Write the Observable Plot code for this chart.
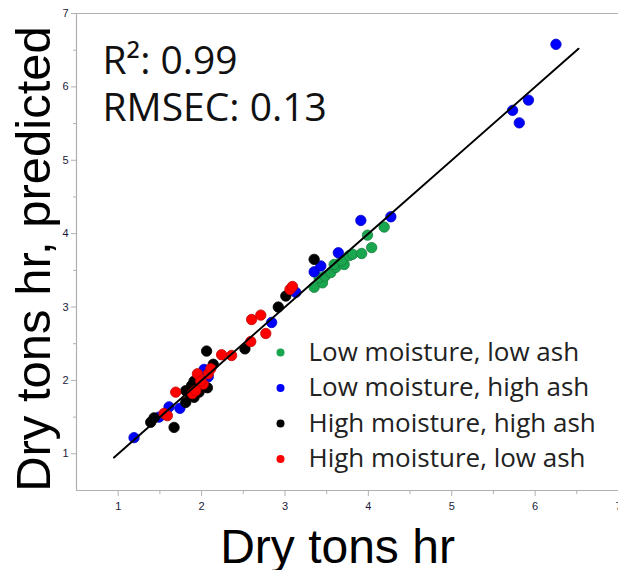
<!DOCTYPE html>
<html>
<head>
<meta charset="utf-8">
<script src="https://cdn.jsdelivr.net/npm/d3@7"></script>
<script src="https://cdn.jsdelivr.net/npm/@observablehq/plot@0.6"></script>
<style>
  html, body { margin: 0; padding: 0; background: #fff; overflow: hidden; }
</style>
</head>
<body>
<div id="chart"></div>
<script>
// ---- data ----
const groups = ["Low moisture, low ash", "Low moisture, high ash", "High moisture, high ash", "High moisture, low ash"];
const groupColors = ["#1aa64f", "#0000ff", "#000000", "#ff0000"];

// [measured, predicted]
const lowMoistLowAsh = [
  [3.35,3.27],[3.45,3.33],[3.41,3.40],[3.48,3.42],[3.55,3.47],[3.61,3.54],[3.59,3.58],
  [3.71,3.58],[3.68,3.63],[3.77,3.70],[3.81,3.72],[3.92,3.73],[4.04,3.81],[3.99,3.98],[4.19,4.09]
];
const lowMoistHighAsh = [
  [1.19,1.22],[1.49,1.50],[1.61,1.64],[1.74,1.62],[2.03,2.15],[2.08,2.05],[2.84,2.79],
  [3.13,3.20],[3.35,3.48],[3.43,3.56],[3.64,3.74],[3.91,4.18],[4.27,4.23],
  [5.73,5.68],[5.81,5.51],[5.92,5.82],[6.25,6.58]
];
const highMoistHighAsh = [
  [1.39,1.43],[1.43,1.49],[1.67,1.36],[1.81,1.70],[1.81,1.86],[1.91,1.99],[1.91,1.77],
  [1.97,1.84],[2.07,1.90],[2.14,2.22],[2.06,2.40],[2.52,2.43],[2.92,3.00],[3.01,3.15],
  [3.35,3.65],[1.86,1.81],[1.88,1.93]
];
const highMoistLowAsh = [
  [1.55,1.55],[1.59,1.52],[1.69,1.84],[1.89,1.82],[1.93,1.86],[2.02,1.95],[1.95,2.09],
  [2.08,2.09],[1.99,1.99],[2.11,2.16],[2.24,2.35],[2.36,2.34],[2.59,2.53],[2.77,2.64],
  [2.60,2.83],[2.71,2.89],[3.06,3.24],[3.09,3.28]
];
const seriesList = [lowMoistLowAsh, lowMoistHighAsh, highMoistHighAsh, highMoistLowAsh];

const fitX = [0.95, 6.52];          // 1:1 fit line extent
const xTicks = [1, 2, 3, 4, 5, 6, 7];
const yTicks = [1, 2, 3, 4, 5, 6, 7];
const minorTicks = [1.5, 2.5, 3.5, 4.5, 5.5, 6.5];
const statLines = ["R²: 0.99", "RMSEC: 0.13"];
const xLabel = "Dry tons hr";
const yLabel = "Dry tons hr, predicted";

// ---- build ----
const points = [];
seriesList.forEach((arr, gi) => arr.forEach(([x, y]) => points.push({x, y, g: groups[gi]})));
const colorOf = Object.fromEntries(groups.map((g, i) => [g, groupColors[i]]));
const strokeOf = Object.fromEntries(groups.map((g, i) => [g, d3.color(groupColors[i]).darker(0.8).formatHex()]));
const fit = fitX.map(v => ({x: v, y: v}));

const axisColor = "#b0b0b0";
const tickFont = "Liberation Sans, Arial, sans-serif";
const uiFont = "Open Sans, Noto Sans, sans-serif";

const legendMarks = [];
groups.forEach((g, i) => {
  legendMarks.push(Plot.dot([g], {frameAnchor: "top-left", dx: 204, dy: 339 + i * 35.5, r: 4, fill: groupColors[i], stroke: "none"}));
  legendMarks.push(Plot.text([g], {frameAnchor: "top-left", dx: 232, dy: 339 + i * 35.5, text: d => d, textAnchor: "start", lineAnchor: "middle",
    fontSize: 26, fill: "#222", fontFamily: uiFont}));
});

const chart = Plot.plot({
  width: 618,
  height: 570,
  marginLeft: 76,
  marginRight: 0,
  marginTop: 13,
  marginBottom: 80,
  style: {fontFamily: tickFont, fontSize: "11px", background: "#fff", overflow: "visible"},
  x: {domain: [0.5, 7.0]},
  y: {domain: [0.5, 7.0]},
  marks: [
    // frame lines
    Plot.ruleX([0.5], {stroke: axisColor, strokeWidth: 1.2}),
    Plot.ruleY([0.5], {stroke: axisColor, strokeWidth: 1.2}),
    Plot.ruleY([7.0], {stroke: axisColor, strokeWidth: 1.2}),
    // axes
    Plot.axisX(xTicks, {tickSize: 6, stroke: axisColor, tickPadding: 6, fill: "#1a1a3a", fontSize: 11, tickFormat: "d", label: null}),
    Plot.axisX(minorTicks, {tickSize: 4, stroke: axisColor, text: null, label: null}),
    Plot.axisY(yTicks, {tickSize: 5, stroke: axisColor, tickPadding: 3, fill: "#1a1a3a", fontSize: 11, tickFormat: "d", label: null}),
    Plot.axisY(minorTicks, {tickSize: 3, stroke: axisColor, text: null, label: null}),
    // data
    Plot.dot(points, {x: "x", y: "y", r: 5.2, fill: d => colorOf[d.g], stroke: d => strokeOf[d.g], strokeWidth: 0.8}),
    Plot.line(fit, {x: "x", y: "y", stroke: "#000", strokeWidth: 2}),
    // stats
    ...statLines.map((s, i) => Plot.text([s], {frameAnchor: "top-left", dx: 26, dy: 48 + i * 47, text: d => d, textAnchor: "start", lineAnchor: "middle",
      fontSize: 39, fill: "#111", fontFamily: uiFont})),
    // legend
    ...legendMarks,
    // axis titles
    Plot.text([xLabel], {frameAnchor: "bottom", dx: -10, dy: 57, text: d => d, textAnchor: "middle", lineAnchor: "middle", fontSize: 48, fill: "#000", fontFamily: tickFont}),
    Plot.text([yLabel], {frameAnchor: "left", dx: -42, dy: 7, rotate: -90, text: d => d, textAnchor: "middle", lineAnchor: "middle", fontSize: 49, fill: "#000", fontFamily: tickFont})
  ]
});
document.getElementById("chart").appendChild(chart);
</script>
</body>
</html>
